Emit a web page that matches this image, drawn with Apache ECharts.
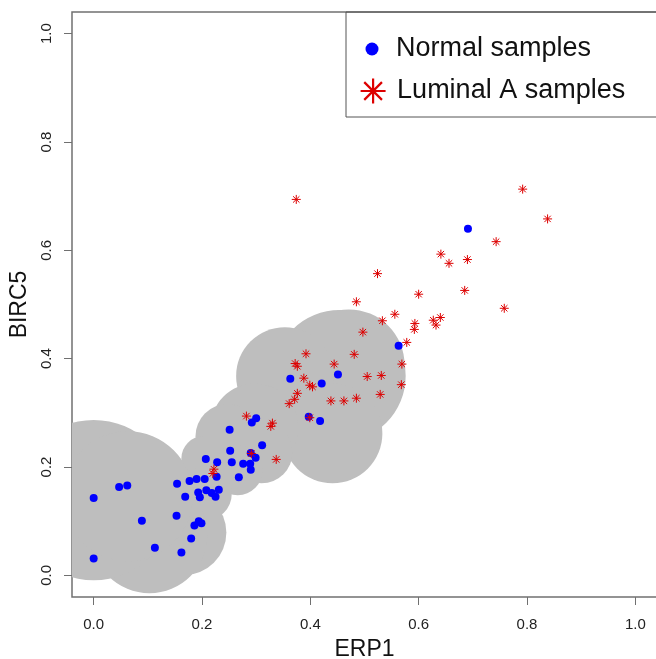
<!DOCTYPE html>
<html>
<head>
<meta charset="utf-8">
<title>ERP1 vs BIRC5</title>
<script src="https://cdn.jsdelivr.net/npm/echarts@6/dist/echarts.min.js"></script>
<style>
html, body { margin: 0; padding: 0; background: #fff; }
#container { width: 656px; height: 659px; }
</style>
</head>
<body>
<div id="container"></div>
<script>
// tick positions
var xTicks = [0, 0.2, 0.4, 0.6, 0.8, 1.0];
var yTicks = [0, 0.2, 0.4, 0.6, 0.8, 1.0];

// grey region, union of circles: [ERP1, BIRC5, radius]
var greyCircles = [
	[0.471, 0.388, 0.103],
	[0.454, 0.368, 0.122],
	[0.353, 0.368, 0.090],
	[0.441, 0.262, 0.092],
	[0.297, 0.273, 0.081],
	[0.247, 0.257, 0.059],
	[0.203, 0.216, 0.041],
	[0.310, 0.227, 0.057],
	[0.266, 0.194, 0.046],
	[0.205, 0.151, 0.050],
	[0.166, 0.079, 0.079],
	[0.103, 0.074, 0.107],
	[0.000, 0.139, 0.148],
	[0.063, 0.146, 0.120]
];

// normal samples [ERP1, BIRC5]
var normalSamples = [
	[0.000, 0.143], [0.000, 0.031], [0.047, 0.163], [0.062, 0.166], [0.089, 0.101],
	[0.113, 0.051], [0.154, 0.169], [0.153, 0.110], [0.162, 0.042], [0.169, 0.145],
	[0.177, 0.174], [0.190, 0.178], [0.180, 0.068], [0.186, 0.092], [0.194, 0.100],
	[0.199, 0.096], [0.193, 0.153], [0.196, 0.144], [0.205, 0.178], [0.207, 0.215],
	[0.208, 0.157], [0.218, 0.152], [0.225, 0.145], [0.231, 0.158], [0.228, 0.209],
	[0.227, 0.182], [0.251, 0.269], [0.252, 0.230], [0.255, 0.209], [0.268, 0.181],
	[0.276, 0.206], [0.289, 0.206], [0.290, 0.195], [0.292, 0.282], [0.300, 0.290],
	[0.299, 0.217], [0.311, 0.240], [0.290, 0.226], [0.363, 0.363], [0.421, 0.354],
	[0.397, 0.293], [0.418, 0.285], [0.451, 0.371], [0.563, 0.424], [0.691, 0.640]
];

// luminal A samples [ERP1, BIRC5]
var luminalSamples = [
	[0.374, 0.694], [0.792, 0.713], [0.838, 0.658], [0.743, 0.616], [0.641, 0.593],
	[0.656, 0.576], [0.690, 0.583], [0.524, 0.557], [0.600, 0.519], [0.685, 0.526],
	[0.485, 0.505], [0.556, 0.482], [0.533, 0.470], [0.758, 0.493], [0.627, 0.471],
	[0.640, 0.476], [0.632, 0.462], [0.593, 0.465], [0.592, 0.454], [0.497, 0.449],
	[0.578, 0.430], [0.569, 0.390], [0.481, 0.408], [0.444, 0.390], [0.505, 0.367],
	[0.531, 0.369], [0.568, 0.352], [0.438, 0.322], [0.462, 0.322], [0.485, 0.327],
	[0.529, 0.334], [0.392, 0.409], [0.372, 0.391], [0.376, 0.386], [0.388, 0.364],
	[0.399, 0.351], [0.404, 0.348], [0.376, 0.336], [0.371, 0.325], [0.361, 0.317],
	[0.399, 0.291], [0.282, 0.294], [0.330, 0.281], [0.327, 0.275], [0.291, 0.225],
	[0.337, 0.214], [0.222, 0.196], [0.220, 0.188]
];

var fontFam = '"Liberation Sans", Arial, Helvetica, sans-serif';
var boxColor = '#707070';
var blue = '#0000ff';
var red = '#dd0000';
// R pch 8 style star, all arms same length
var starPath = 'path://M0,-141L0,141M-141,0L141,0M-100,-100L100,100M-100,100L100,-100';

var dom = document.getElementById('container');
var myChart = echarts.init(dom, null, { renderer: 'canvas' });

function tickFmt(v) {
	return (+v).toFixed(1);
}

var option = {
	animation: false,
	backgroundColor: '#fff',
	grid: {
		left: 72,
		top: 12,
		width: 585,
		height: 585,
		outerBoundsMode: 'none',
		containLabel: false,
		show: true,
		borderColor: boxColor,
		borderWidth: 1.5,
		backgroundColor: 'transparent'
	},
	xAxis: {
		type: 'value',
		min: -0.04,
		max: 1.04,
		name: 'ERP1',
		nameLocation: 'middle',
		nameGap: 53,
		nameTextStyle: { fontSize: 23, color: '#111', fontFamily: fontFam, verticalAlign: 'middle' },
		axisLine: { show: false, onZero: false },
		splitLine: { show: false },
		axisTick: { show: true, length: 8, customValues: xTicks, lineStyle: { color: boxColor, width: 1 } },
		axisLabel: { customValues: xTicks, formatter: tickFmt, margin: 20, fontSize: 15, color: '#222', fontFamily: fontFam }
	},
	yAxis: {
		type: 'value',
		min: -0.04,
		max: 1.04,
		name: 'BIRC5',
		nameLocation: 'middle',
		nameGap: 48,
		nameTextStyle: { fontSize: 23, color: '#111', fontFamily: fontFam, verticalAlign: 'middle' },
		axisLine: { show: false, onZero: false },
		splitLine: { show: false },
		axisTick: { show: true, length: 8, customValues: yTicks, lineStyle: { color: boxColor, width: 1 } },
		axisLabel: { customValues: yTicks, formatter: tickFmt, rotate: 90, margin: 18, fontSize: 15, color: '#222', fontFamily: fontFam }
	},
	legend: [{
		data: [{ name: 'Normal samples', icon: 'circle' }],
		left: 365.5,
		top: 34,
		padding: 0,
		itemWidth: 38,
		itemHeight: 13,
		symbolKeepAspect: true,
		selectedMode: false,
		itemStyle: { color: blue },
		textStyle: { fontSize: 27, color: '#111', fontFamily: fontFam, lineHeight: 30 }
	}, {
		data: [{ name: 'Luminal A samples', icon: starPath }],
		left: 359.5,
		top: 76,
		padding: 0,
		itemWidth: 38,
		itemHeight: 25,
		symbolKeepAspect: true,
		selectedMode: false,
		itemStyle: { color: 'transparent', borderColor: red, borderWidth: 2.2 },
		textStyle: { fontSize: 27, color: '#111', fontFamily: fontFam, lineHeight: 30 }
	}],
	graphic: [{
		type: 'rect',
		shape: { x: 346, y: 12, width: 330, height: 105 },
		style: { fill: 'none', stroke: '#555', lineWidth: 1 },
		silent: true
	}],
	series: [{
		type: 'custom',
		name: 'region',
		clip: true,
		silent: true,
		data: greyCircles,
		renderItem: function(params, api) {
			var c = api.coord([api.value(0), api.value(1)]);
			var s = api.size([api.value(2), api.value(2)]);
			return {
				type: 'circle',
				shape: { cx: c[0], cy: c[1], r: s[0] },
				style: { fill: '#bebebe' }
			};
		}
	}, {
		type: 'scatter',
		name: 'Normal samples',
		symbol: 'circle',
		symbolSize: 8,
		data: normalSamples,
		itemStyle: { color: blue, opacity: 1 }
	}, {
		type: 'scatter',
		name: 'Luminal A samples',
		symbol: starPath,
		symbolSize: 9,
		symbolKeepAspect: true,
		data: luminalSamples,
		itemStyle: { color: 'transparent', borderColor: red, borderWidth: 1, opacity: 1 }
	}]
};

myChart.setOption(option);
</script>
</body>
</html>
